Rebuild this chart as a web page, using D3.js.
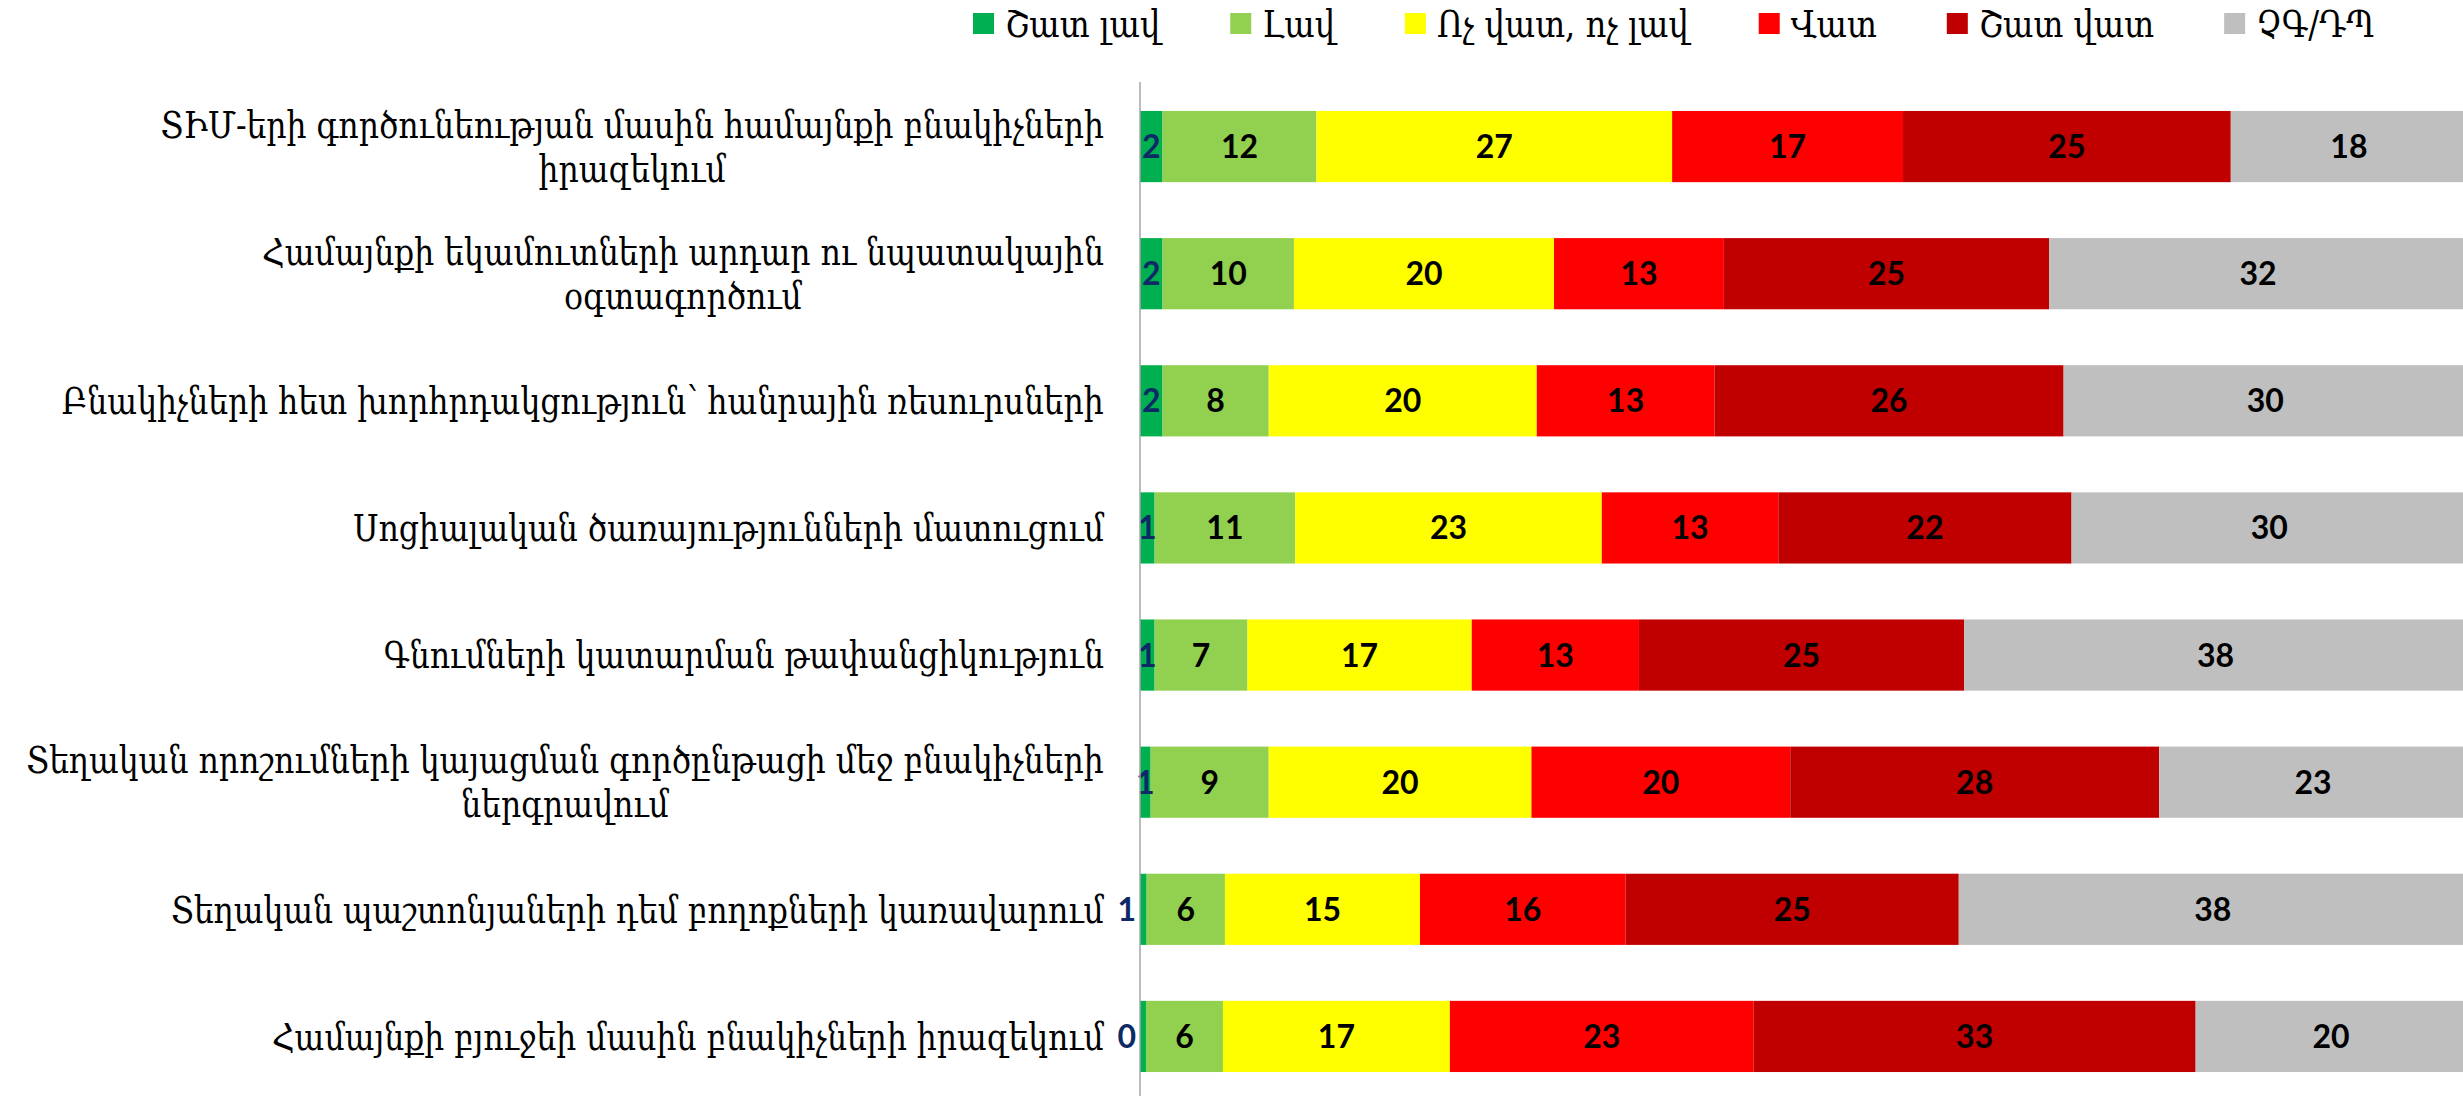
<!DOCTYPE html>
<html>
<head>
<meta charset="utf-8">
<script src="https://cdn.jsdelivr.net/npm/d3@7"></script>
<style>
  html, body { margin: 0; padding: 0; background: #fff; }
  svg { display: block; }
  .arm { font-family: "DejaVu Serif Condensed", "DejaVu Serif", serif; font-stretch: condensed; fill: #000; }
  .val { font-family: Lato, "Open Sans", sans-serif; font-weight: 700; }
</style>
</head>
<body>
<svg id="chart" width="2463" height="1096"></svg>
<script>
// ---- data ----
const categories = [
  "ՏԻՄ-երի գործունեության մասին համայնքի բնակիչների\nիրազեկում",
  "Համայնքի եկամուտների արդար ու նպատակային\nօգտագործում",
  "Բնակիչների հետ խորհրդակցություն՝ հանրային ռեսուրսների",
  "Սոցիալական ծառայությունների մատուցում",
  "Գնումների կատարման թափանցիկություն",
  "Տեղական որոշումների կայացման գործընթացի մեջ բնակիչների\nներգրավում",
  "Տեղական պաշտոնյաների դեմ բողոքների կառավարում",
  "Համայնքի բյուջեի մասին բնակիչների իրազեկում"
];
const seriesNames = ["Շատ լավ", "Լավ", "Ոչ վատ, ոչ լավ", "Վատ", "Շատ վատ", "ՉԳ/ԴՊ"];
const seriesColors = ["#00B050", "#92D050", "#FFFF00", "#FF0000", "#C00000", "#BFBFBF"];
const veryGood = [1.7, 1.7, 1.7, 1.1, 1.1, 0.8, 0.5, 0.45];
const good     = [11.6, 9.9, 8.0, 10.6, 7.0, 8.9, 5.9, 5.8];
const neutral  = [26.8, 19.6, 20.2, 23.1, 16.9, 19.8, 14.7, 17.1];
const bad      = [17.4, 12.8, 13.4, 13.3, 12.6, 19.5, 15.5, 22.9];
const veryBad  = [24.7, 24.5, 26.3, 22.1, 24.5, 27.8, 25.1, 33.3];
const dkna     = [17.8, 31.5, 30.4, 29.8, 37.9, 23.2, 38.3, 20.4];
const seriesValues = [veryGood, good, neutral, bad, veryBad, dkna];

// ---- build table ----
const keys = seriesNames;
const table = categories.map((c, i) => {
  const row = { cat: c };
  keys.forEach((k, j) => row[k] = seriesValues[j][i]);
  return row;
});

const svg = d3.select("#chart");
const W = 2463, H = 1096;
const plotLeft = 1140, plotRight = 2467;
const textScaleX = 0.92;
const legendScaleX = 0.94;

const x = d3.scaleLinear().domain([0, 100]).range([plotLeft, plotRight]);
const y = d3.scaleBand().domain(categories).range([83, 1100]).paddingInner(0.44).paddingOuter(0.22);
const color = d3.scaleOrdinal().domain(keys).range(seriesColors);

const stacked = d3.stack().keys(keys)(table);

const layers = svg.append("g").selectAll("g")
  .data(stacked).join("g")
  .attr("fill", d => color(d.key));

layers.selectAll("rect")
  .data(d => d.map(p => ({ p, key: d.key })))
  .join("rect")
  .attr("x", d => x(d.p[0]))
  .attr("y", d => y(d.p.data.cat))
  .attr("width", d => x(d.p[1]) - x(d.p[0]))
  .attr("height", y.bandwidth());

// value labels
const labelG = svg.append("g").attr("class", "val").attr("font-size", 32);
stacked.forEach((layer, li) => {
  layer.forEach(p => {
    const x0 = x(p[0]), x1 = x(p[1]);
    const w = x1 - x0;
    const narrow = w < 9;
    labelG.append("text")
      .attr("x", narrow ? x0 - 4 : (x0 + x1) / 2)
      .attr("y", y(p.data.cat) + y.bandwidth() / 2)
      .attr("dy", "0.36em")
      .attr("text-anchor", narrow ? "end" : "middle")
      .attr("fill", li === 0 ? "#0E2A66" : "#000")
      .text(Math.round(p[1] - p[0]));
  });
});

// axis line (category axis)
const yAxis = d3.axisLeft(y).tickSize(0).tickFormat("");
const ax = svg.append("g").attr("transform", `translate(${plotLeft},0)`).call(yAxis);
ax.select(".domain").attr("stroke", "#A6A6A6").attr("stroke-width", 1.5)
  .attr("d", `M0,82V${H}`);

// category labels
const labelRight = 1104;
const catG = svg.append("g").attr("class", "arm").attr("font-size", 38);
categories.forEach(c => {
  const lines = c.split("\n");
  const cy = y(c) + y.bandwidth() / 2;
  const lh = 44;
  const t = catG.append("text").attr("text-anchor", "middle").attr("x", 0);
  lines.forEach((ln, i) => {
    t.append("tspan")
      .attr("x", 0)
      .attr("y", cy + (i - (lines.length - 1) / 2) * lh)
      .attr("dy", "0.35em")
      .text(ln);
  });
  let maxW = 0;
  t.selectAll("tspan").each(function () { maxW = Math.max(maxW, this.getComputedTextLength()); });
  const cx = labelRight - maxW * textScaleX / 2;
  t.attr("transform", `translate(${cx},0) scale(${textScaleX},1)`);
});

// legend
const legG = svg.append("g").attr("class", "arm").attr("font-size", 38);
let lx = 973;
keys.forEach(k => {
  legG.append("rect").attr("x", lx).attr("y", 13).attr("width", 21).attr("height", 21).attr("fill", color(k));
  const t = legG.append("text").attr("x", 0).attr("y", 24).attr("dy", "0.35em")
    .attr("transform", `translate(${lx + 32},0) scale(${legendScaleX},1)`).text(k);
  lx += 32 + t.node().getComputedTextLength() * legendScaleX + 70;
});
</script>
</body>
</html>
